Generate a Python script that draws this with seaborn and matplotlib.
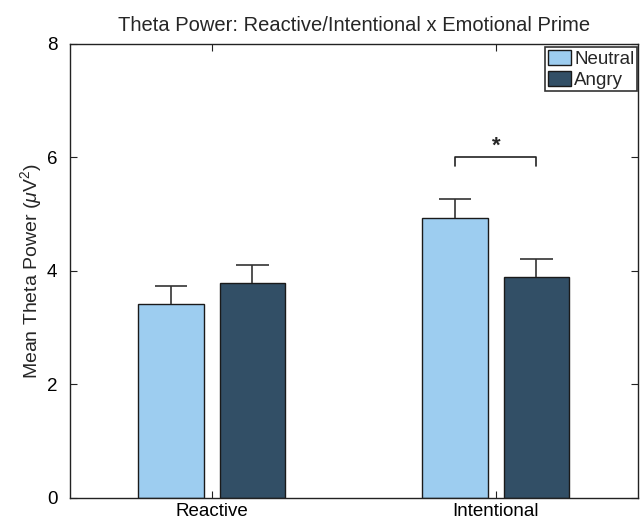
import pandas as pd
import numpy as np
import matplotlib
matplotlib.use('Agg')
import matplotlib.pyplot as plt
import seaborn as sns

# values
conditions = ['Reactive', 'Intentional']
primes = ['Neutral', 'Angry']
neutral_means = [3.42, 4.94]
angry_means = [3.79, 3.90]
neutral_sem = [0.32, 0.32]
angry_sem = [0.32, 0.31]
sig_level = 6.0

colors = {'Neutral': '#9DCDF0', 'Angry': '#324F66'}

df = pd.DataFrame({
    'condition': conditions * 2,
    'prime': ['Neutral'] * 2 + ['Angry'] * 2,
    'power': neutral_means + angry_means,
    'sem': neutral_sem + angry_sem,
})

sns.set_style('white')
plt.rcParams['font.family'] = ['Liberation Sans', 'DejaVu Sans']
plt.rcParams['mathtext.fontset'] = 'custom'
plt.rcParams['mathtext.rm'] = 'Liberation Sans'
plt.rcParams['mathtext.it'] = 'Liberation Sans:italic'

fig, ax = plt.subplots(figsize=(6.41, 5.22), dpi=100)
fig.subplots_adjust(left=0.109, right=0.995, top=0.916, bottom=0.046)

sns.barplot(data=df, x='condition', y='power', hue='prime', order=conditions,
            hue_order=primes, palette=colors, saturation=1, width=0.572, gap=0.19,
            edgecolor='#1a1a1a', linewidth=1.0, errorbar=None, ax=ax, zorder=2)

# upper-only error bars with caps, placed on the drawn bars
cap = 0.057
for container, prime in zip(ax.containers, primes):
    sub = df[df['prime'] == prime].set_index('condition').loc[conditions]
    xs = np.array([p.get_x() + p.get_width() / 2 for p in container.patches])
    tops = (sub['power'] + sub['sem']).values
    ax.vlines(xs, sub['power'].values, tops, color='#333333', lw=1.2, zorder=3)
    ax.hlines(tops, xs - cap, xs + cap, color='#333333', lw=1.2, zorder=3)

# significance bracket over Intentional
p_n = ax.containers[0].patches[1]
p_a = ax.containers[1].patches[1]
x1 = p_n.get_x() + p_n.get_width() / 2
x2 = p_a.get_x() + p_a.get_width() / 2
ax.plot([x1, x1, x2, x2], [sig_level - 0.16, sig_level, sig_level, sig_level - 0.16],
        color='#222222', lw=1.2)
ax.text((x1 + x2) / 2, sig_level + 0.02, '*', ha='center', va='bottom',
        fontsize=16, fontweight='bold')

ax.set_ylim(0, 8)
ax.set_xlim(-0.5, 1.5)
ax.set_yticks([0, 2, 4, 6, 8])
ax.set_xlabel('')
ax.set_ylabel(r'Mean Theta Power ($\mu$V$^2$)', fontsize=14, labelpad=2)
ax.set_title('Theta Power: Reactive/Intentional x Emotional Prime', fontsize=14.5, pad=9)
ax.tick_params(direction='in', length=5, width=0.8, labelsize=13.5,
               top=True, right=True, bottom=True, left=True, colors='#222222',
               labelcolor='black')
ax.tick_params(axis='y', pad=9)
for s in ax.spines.values():
    s.set_visible(True)
    s.set_color('#222222')
    s.set_linewidth(1.0)

leg = ax.legend(loc='upper right', bbox_to_anchor=(0.999, 0.993), frameon=True,
                fancybox=False, fontsize=13.5, borderpad=0.15, handlelength=1.25,
                handleheight=0.85, handletextpad=0.15, labelspacing=0.15,
                borderaxespad=0.0)
leg.get_frame().set_edgecolor('black')
leg.get_frame().set_linewidth(1.2)
for h in leg.legend_handles:
    h.set_edgecolor('#1a1a1a')
    h.set_linewidth(1.0)

fig.savefig('out.png', dpi=100)
